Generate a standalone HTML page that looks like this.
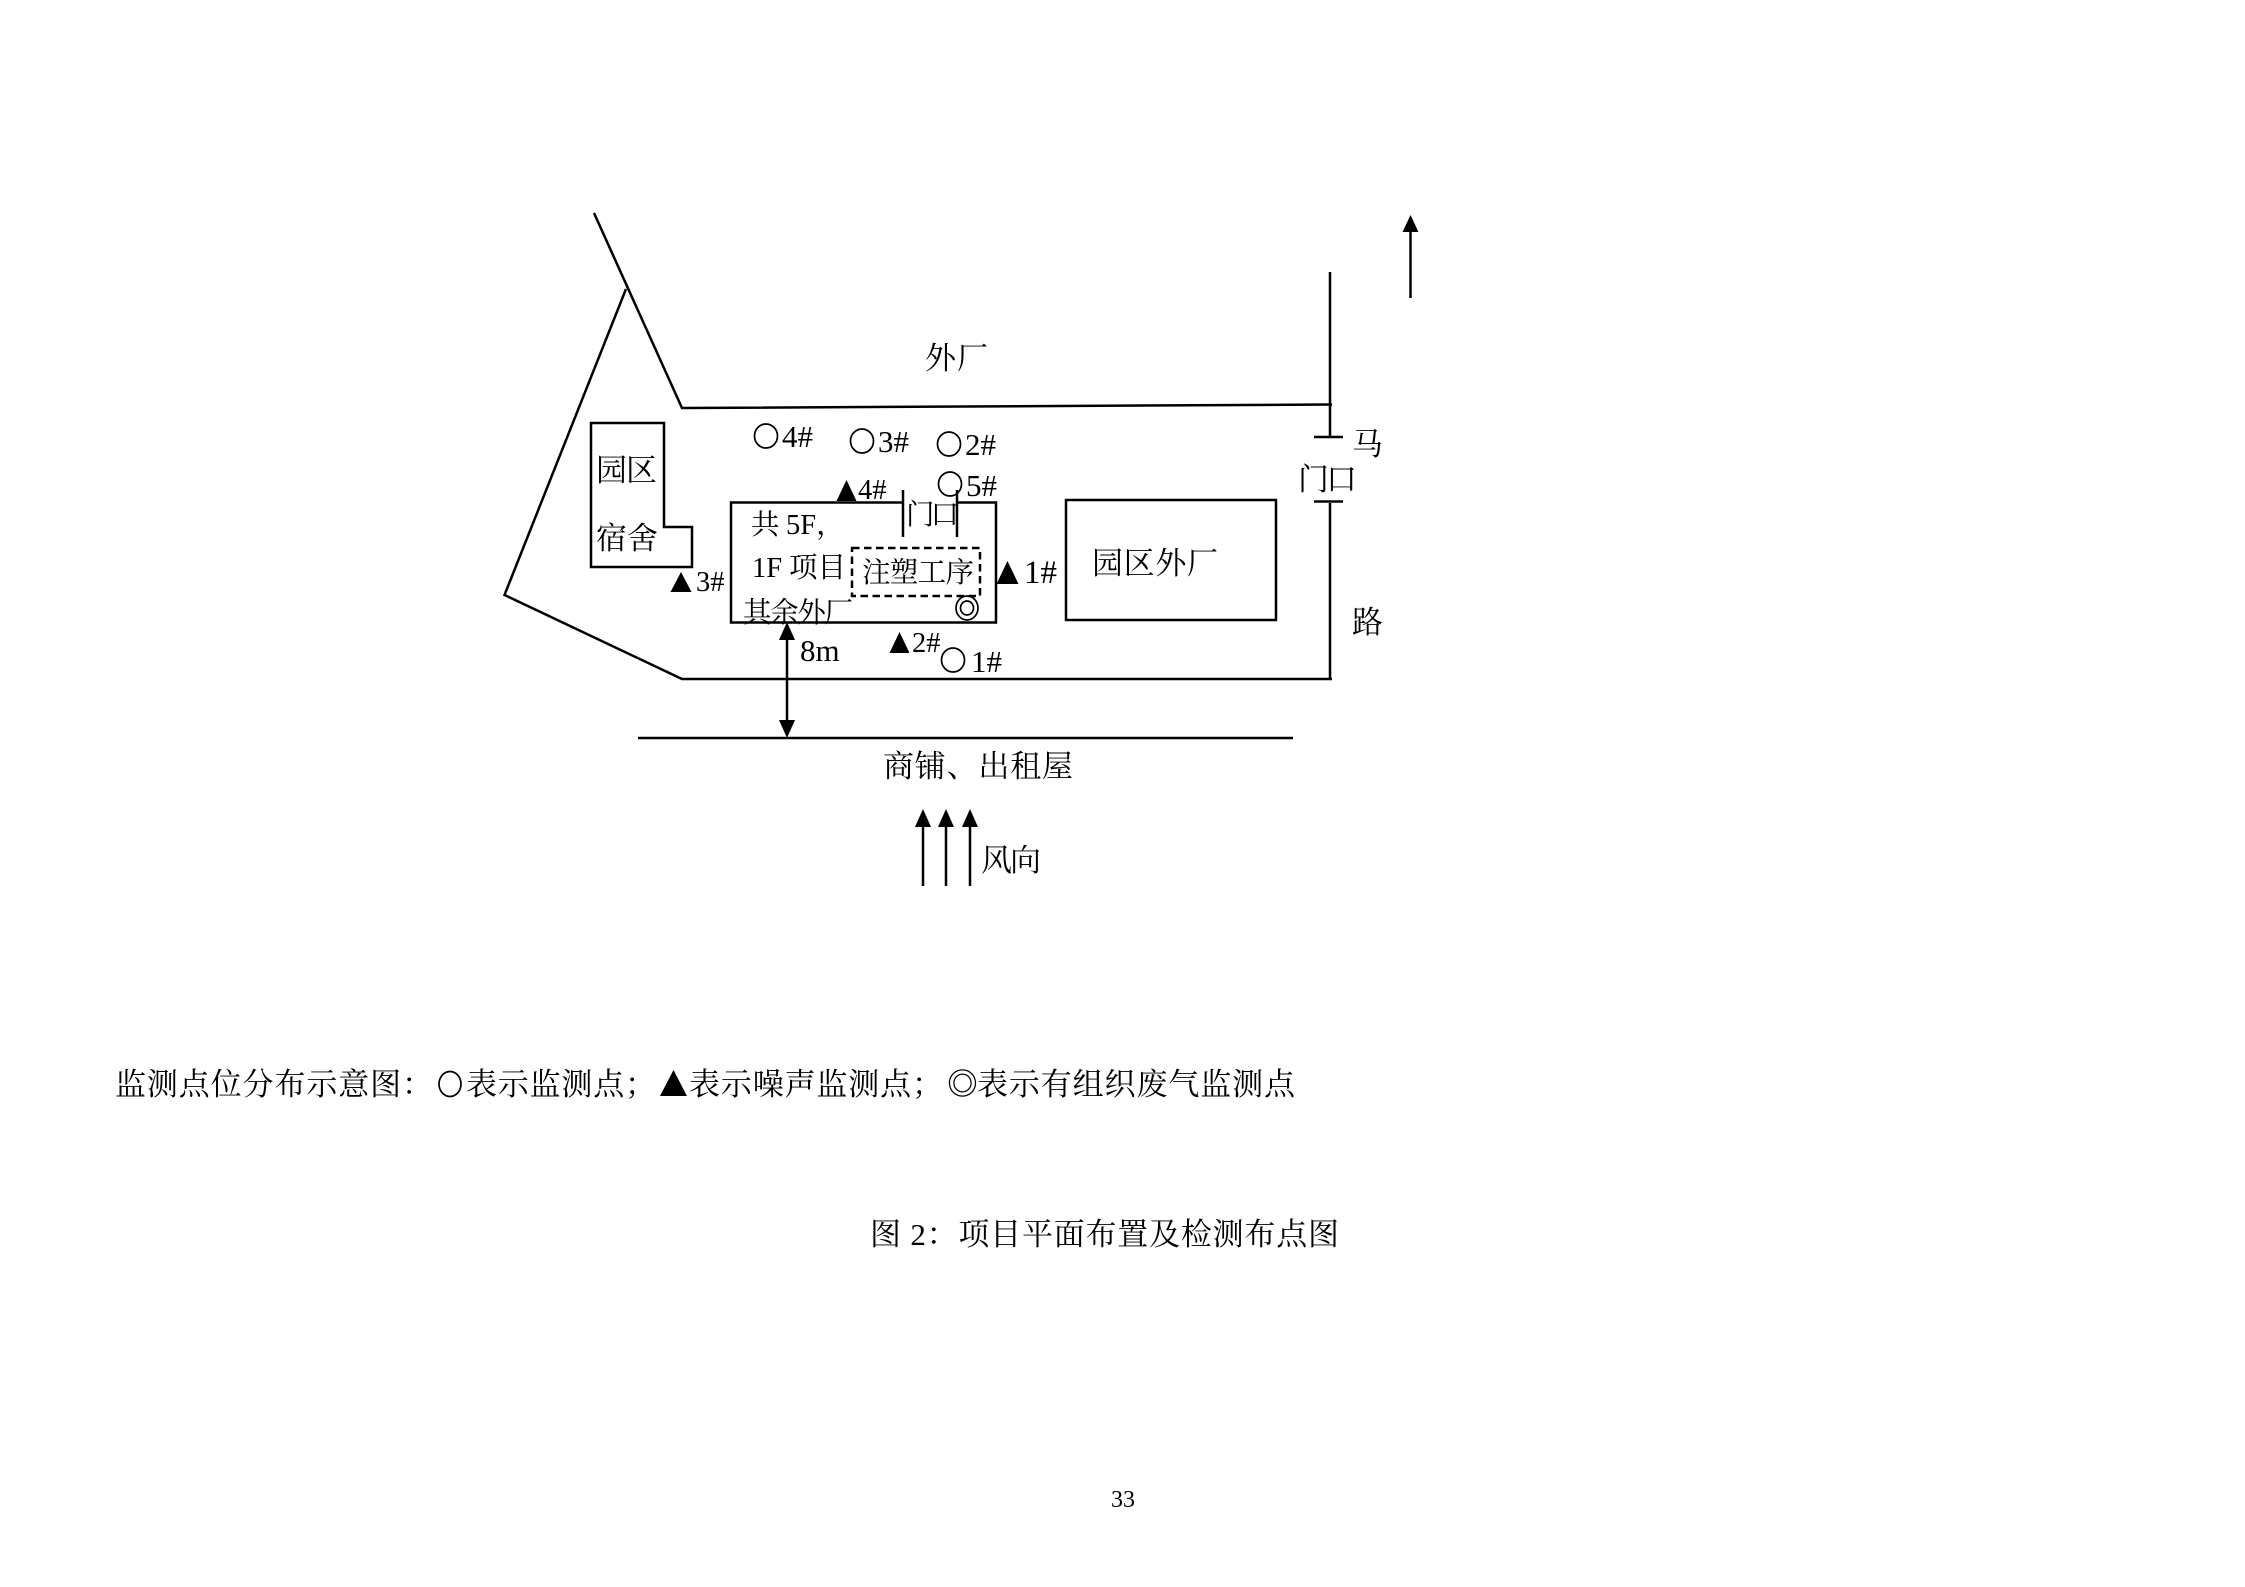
<!DOCTYPE html>
<html lang="zh">
<head>
<meta charset="utf-8">
<title>图2：项目平面布置及检测布点图</title>
<style>
html,body{margin:0;padding:0;background:#fff;width:2245px;height:1587px;overflow:hidden}
svg{display:block}
text{font-family:"Liberation Serif","Noto Serif CJK SC",serif;fill:#000}
.c{font-size:31px}
.n{font-size:31px}
.s{font-size:28.5px}
</style>
</head>
<body>
<svg xmlns="http://www.w3.org/2000/svg" width="2245" height="1587" viewBox="0 0 2245 1587">
<g fill="none" stroke="#000" stroke-width="2.5">
  <polyline points="594,213 682,408 1332,404.5"/>
  <polyline points="626,289 504.5,595 682,679 1332,679"/>
  <polyline points="1330,272 1330,437"/>
  <line x1="1314" y1="437" x2="1343" y2="437"/>
  <line x1="1314" y1="501.5" x2="1343" y2="501.5"/>
  <polyline points="1330,503 1330,679"/>
  <polygon points="591,423 664,423 664,527 692,527 692,567 591,567"/>
  <polyline points="903,502.5 731,502.5 731,622.5 996,622.5 996,502.5 957,502.5"/>
  <line x1="903" y1="490" x2="903" y2="537"/>
  <line x1="957" y1="490" x2="957" y2="537"/>
  <rect x="852" y="548" width="128" height="48" stroke-dasharray="7.5 4.5"/>
  <rect x="1066" y="500" width="210" height="120"/>
  <line x1="638" y1="738" x2="1293" y2="738"/>
  <line x1="787" y1="630" x2="787" y2="725"/>
  <line x1="1410.5" y1="228" x2="1410.5" y2="298"/>
  <line x1="923" y1="822" x2="923" y2="886"/>
  <line x1="946" y1="822" x2="946" y2="886"/>
  <line x1="970" y1="822" x2="970" y2="886"/>
  <g stroke-width="1.7">
    <ellipse cx="766" cy="436" rx="11.5" ry="12"/>
    <ellipse cx="862" cy="441" rx="11.5" ry="12"/>
    <ellipse cx="949" cy="444" rx="11.5" ry="12"/>
    <ellipse cx="950" cy="484" rx="11.5" ry="12"/>
    <ellipse cx="953" cy="660" rx="11.5" ry="12"/>
    <ellipse cx="967" cy="608" rx="11" ry="12"/>
    <ellipse cx="967" cy="608" rx="6.5" ry="7"/>
  </g>
</g>
<g fill="#000">
  <polygon points="787,622 779,640 795,640"/>
  <polygon points="787,738 779,720 795,720"/>
  <polygon points="1410.5,215 1402.5,232 1418.5,232"/>
  <polygon points="923,809 915,827 931,827"/>
  <polygon points="946,809 938,827 954,827"/>
  <polygon points="970,809 962,827 978,827"/>
  <polygon points="846.5,480 836.5,501 856.5,501"/>
  <polygon points="899.5,632 889.5,653 909.5,653"/>
  <polygon points="1007.5,561 996.5,584 1018.5,584"/>
  <polygon points="681,572 670.5,592 691.5,592"/>
  <polygon points="673.5,1070 660,1096 687,1096"/>
</g>
<text class="n" x="782" y="447">4#</text>
<text class="n" x="878" y="452">3#</text>
<text class="n" x="965" y="455">2#</text>
<text class="n" x="966" y="496">5#</text>
<text class="n" x="971" y="672">1#</text>
<text class="n" x="800" y="661">8m</text>
<text class="s" x="858" y="499">4#</text>
<text class="s" x="912" y="652">2#</text>
<text class="s" x="696" y="591">3#</text>
<text x="1024" y="583" font-size="33">1#</text>

<text class="c" x="925" y="369" textLength="63" lengthAdjust="spacing">外厂</text>
<text class="c" x="596" y="481" textLength="61" lengthAdjust="spacing">园区</text>
<text class="c" x="596" y="549" textLength="62" lengthAdjust="spacing">宿舍</text>
<text class="s" x="751" y="534">共 <tspan x="786">5F，</tspan></text>
<text class="s" x="752" y="577">1F<tspan x="789">项目</tspan></text>
<text class="s" x="743" y="622" textLength="110" lengthAdjust="spacing">其余外厂</text>
<text class="s" x="862" y="582" textLength="112" lengthAdjust="spacing">注塑工序</text>
<text class="s" x="906" y="524" textLength="53" lengthAdjust="spacing">门口</text>
<text class="c" x="1092" y="574" textLength="126" lengthAdjust="spacing">园区外厂</text>
<text class="c" x="1352" y="455">马</text>
<text class="c" x="1298" y="490" textLength="59" lengthAdjust="spacing">门口</text>
<text class="c" x="1352" y="633">路</text>
<text class="c" x="883" y="777" textLength="190" lengthAdjust="spacing">商铺、出租屋</text>
<text class="c" x="981" y="871" textLength="60" lengthAdjust="spacing">风向</text>
<text font-size="31" x="115" y="1095" textLength="318" lengthAdjust="spacing">监测点位分布示意图：</text>
<ellipse cx="450" cy="1084" rx="11" ry="12.5" fill="none" stroke="#000" stroke-width="1.7"/>
<text font-size="31" x="466" y="1095" textLength="190" lengthAdjust="spacing">表示监测点；</text>
<text font-size="31" x="689" y="1095" textLength="254" lengthAdjust="spacing">表示噪声监测点；</text>
<text font-size="31" x="947" y="1095">◎</text>
<text font-size="31" x="977" y="1095" textLength="318" lengthAdjust="spacing">表示有组织废气监测点</text>
<text font-size="31" x="870" y="1245" textLength="469" lengthAdjust="spacing">图 2：项目平面布置及检测布点图</text>
<text font-size="24" x="1111" y="1507">33</text>
</svg>
</body>
</html>
